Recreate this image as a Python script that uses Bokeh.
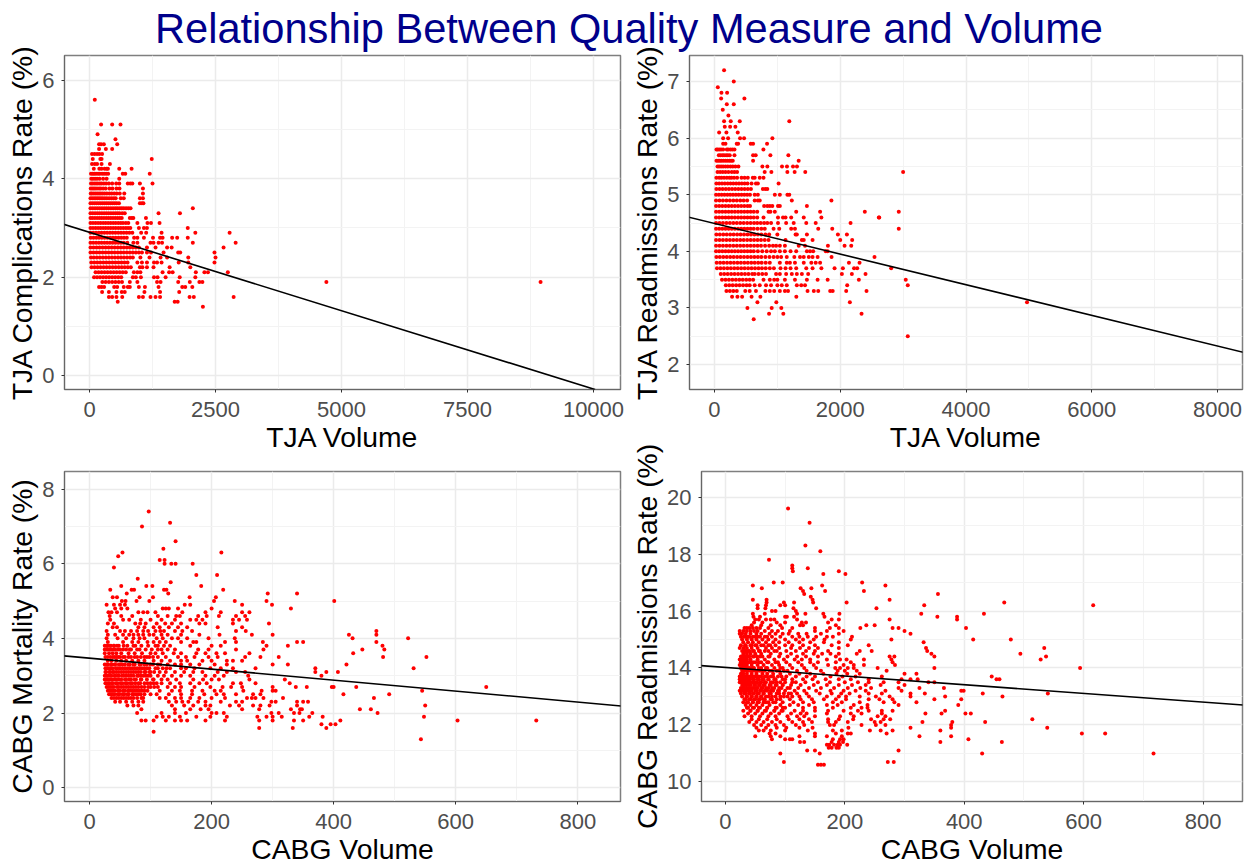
from bokeh.plotting import figure
from bokeh.layouts import column, row
from bokeh.models import FixedTicker, Range1d, Slope
from bokeh.embed import file_html
from bokeh.resources import INLINE

TITLE = "Relationship Between Quality Measure and Volume"
FONT = "Liberation Sans"

# ---- TJA complications: one volume list per rate level
tc_rates = [5.6,5.1,4.9,4.8,4.7,4.6,4.5,4.4,4.3,4.2,4.1,4.0,3.9,3.8,3.7,3.6,3.5,3.4,3.3,3.2,3.1,3.0,2.9,2.8,2.7,2.6,2.5,2.4,2.3,2.2,2.1,2.0,1.9,1.8,1.7,1.6,1.5,1.4]
tc_vols = [
[105],[230,450,615],[160],[515],[190,230,285,550],[190,325,450],[50,100,150,195,250],[65,215,240,1235],[50,105,150,240,405],
[85,195,240,300,340,365,590,835],
[30,65,95,130,170,205,250,290,330,370,660,710,1195],
[35,70,110,150,200,270,340,590],
[30,60,95,130,165,205,240,285,330,385,450,530,590,760,810,850,1000,1250],
[25,55,85,115,150,190,225,270,320,395,455,535,595,1060],
[25,50,85,120,155,190,225,260,300,345,395,440,490,540,600,690,1060],
[20,55,90,125,160,195,230,265,305,345,390,435,480,520,620,680,1000,1060],
[20,60,100,140,180,220,260,300,340,380,420,460,500,540,585,1000,1040,1070],
[20,65,110,155,200,245,290,335,380,425,470,515,555,600,640,680,725,770,815,2050],
[20,65,110,155,200,245,290,335,380,425,470,515,555,595,650,700,1370,1795],
[20,60,105,150,195,240,285,330,375,420,465,510,555,600,640,800,840,870,1120],
[20,70,120,170,220,270,320,370,420,470,520,570,620,665,720,770,950,1150,1220,1390],
[20,70,120,170,220,270,320,370,420,470,520,570,620,670,720,765,810,980,1080,1140,1950],
[20,75,130,185,240,295,350,405,460,515,570,625,680,735,790,850,1025,1125,1430,2100,2780],
[25,80,135,190,245,300,355,410,465,520,575,630,685,740,885,950,1080,1260,1400,1450,1640,1740,1950],
[20,75,130,185,240,295,350,405,460,515,570,625,680,750,870,950,1210,1270,1370,1440,2050,2900],
[20,80,140,200,260,320,380,440,500,560,620,680,740,800,860,920,980,1140,1310,1540,1630,2660],
[20,80,140,200,260,320,380,440,500,560,620,680,740,800,860,920,980,1040,1140,1220,1470,1760,1800,2480],
[30,85,145,205,265,325,385,445,505,565,625,685,745,805,860,1010,1190,1410,1540,1960,2500],
[35,95,155,215,275,335,395,455,515,575,635,695,755,950,1040,1140,1280,1340,1430,1770,1960,2480],
[40,100,160,220,280,340,400,460,520,580,640,700,760,820,1000,1050,1140,1270,1590,2000],
[120,180,240,300,360,420,480,540,600,660,720,880,950,1010,1450,1580,1650,2110,2280,2350,2745],
[90,150,210,270,330,390,450,510,570,630,860,920,1020,1280,1350,1510,1790,2100],
[255,320,385,450,515,580,645,800,950,1340,1410,1760,1990,2180,2240],
[190,240,290,490,550,680,760,800,980,1100,1370,1840,1900,2040],
[250,385,535,640,700,1090,1400,1780],
[385,450,535,650,980,1060,1210,1310,1400,1985,2070,2860],
[560,1690,1750],[2250],
]
tc_far_x = [4700, 8950]
tc_far_y = [1.9, 1.9]

# ---- TJA readmissions
tr_rates = [7.2,7.0,6.9,6.8,6.7,6.6,6.5,6.4,6.3,6.2,6.1,6.0,5.9,5.8,5.7,5.6,5.5,5.4,5.3,5.2,5.1,5.0,4.9,4.8,4.7,4.6,4.5,4.4,4.3,4.2,4.1,4.0,3.9,3.8,3.7,3.6,3.5,3.4,3.3,3.2,3.1,3.0,2.9,2.8,2.5]
tr_vols = [
[153],[307],[53],[111,201],[106,476],[196,307],[132],[222],[153,259,402,1190],[164,249,333],[74,190,370],
[138,217,407,471,921],[138,175,354,376,577,614,836],
[32,53,80,106,138,196,217,254,286,318,778],
[69,95,127,153,185,212,243,318,614,656,889,1175],
[32,58,85,111,143,175,206,238,265,291,614,1339],
[48,74,106,138,175,212,254,291,333,381,762,841,1074,1153,1249,1312],
[48,90,132,175,222,275,318,360,799,905,1159,1275,1444],
[30,75,111,153,196,238,270,312,360,430,480,530,610,640,720,780],
[30,75,120,165,210,255,300,345,390,435,480,525,590,660,690,1020],
[30,80,130,180,230,280,330,380,430,480,530,580,770,810,840],
[25,70,115,160,205,250,295,340,385,430,475,520,565,640,690,960,1040,1160,1190],
[25,80,135,190,245,300,355,410,465,520,640,690,720,1230,1860],
[25,75,125,175,225,275,325,375,425,475,525,565,790,840,880,920,1010,1040,1470],
[25,75,125,175,225,275,325,375,425,475,525,575,625,680,860,890,960,1300,1680,2391,2931],
[25,75,125,175,225,275,325,375,425,475,525,575,625,680,780,1010,1090,1130,1220,1420,1700,2614,2620],
[25,80,135,190,245,300,355,410,465,520,575,630,680,735,790,840,900,1010,1140,1260,1460,1610,2164],
[25,75,125,175,225,275,325,375,425,475,525,575,625,685,745,800,940,1030,1220,1280,1650,1873,2931],
[30,85,140,195,250,305,360,415,470,525,580,635,690,745,810,870,1000,1290,1310,1470,1963,2106],
[25,80,135,190,245,300,355,410,465,520,575,630,685,740,800,860,1130,1390,1420,1560,2000,2190],
[25,80,135,190,245,300,355,410,465,520,575,630,685,740,805,870,930,980,1040,1120,1340,1440,1804,2069,2175],
[25,75,125,175,225,275,325,375,425,475,525,575,625,690,760,830,900,960,1040,1120,1210,1300,1470,1520,1570,1770,1800],
[30,85,140,195,250,305,360,415,470,525,580,635,690,745,810,875,940,1000,1060,1150,1270,1360,1420,1500,1560,1640,1862,2545],
[35,90,145,200,255,310,365,420,475,530,585,640,695,750,815,880,1040,1150,1200,1280,1420,1540,1610,1680,2138,2307],
[40,95,150,205,260,315,370,425,480,535,590,645,700,755,815,880,945,1050,1130,1210,1300,1460,1560,1700,1910,2042,2220,2270,2810],
[100,155,210,265,320,375,430,485,540,600,640,700,760,820,980,1040,1140,1230,1310,1390,1490,2026,2185,2402],
[120,175,230,285,340,395,450,505,560,615,780,880,950,1000,1120,1280,1470,1640,1800,2296,3042],
[180,235,290,345,400,455,510,560,640,720,820,900,1000,1070,1150,1310,1380,1440,2111,3074],
[190,245,300,355,490,560,660,810,880,950,1040,1120,1170,1480,1580,1650,1840,1880,2095,2418],
[280,365,440,590,730,1302],
[683,984,2153],[524,910,1063],[868,1095,2339],[624],[3074],
]
tr_far_x = [3000,4970]
tr_far_y = [5.4,3.1]

# ---- CABG mortality
cm_rates = [7.4,7.1,7.0,6.6,6.4,6.3,6.2,6.1,6.0,5.9,5.7,5.6,5.5,5.4,5.3,5.2,5.1,5.0,4.9,4.8,4.7,4.6,4.5,4.4,4.3,4.2,4.1,4.0,3.9,3.8,3.7,3.6,3.5,3.4,3.3,3.2,3.1,3.0,2.9,2.8,2.7,2.6,2.5,2.4,2.3,2.2,2.1,2.0,1.9,1.8,1.7,1.6,1.5,1.3]
cm_vols = [
[97],[132],[86],[141],[121],[54,216],[47],[115,123],[123,134,141,169],[40],[175,209],[79],[133],[52,93,103,183],
[34,69,73,122,126,219],[61,129,292,340],[38,45,82,104,164,207],[53,59,77,98,204,238,290,401],
[28,40,50,58,156,165,250,299],[42,52,62,120,125,130,145,200,330],
[31,36,45,80,88,95,108,152,190,215,250,262],
[33,52,70,112,128,142,148,178,192,212,240,255],
[34,55,65,84,100,118,140,165,175,185,235,245,258],
[30,40,75,83,92,110,124,135,150,180,190,235,294],
[38,45,80,90,105,115,130,145,160,210,250],
[28,50,58,68,78,88,96,108,116,122,140,152,168,240,256,470],
[30,42,55,65,72,80,88,98,105,118,128,150,180,213,266,300,425,470],
[28,46,60,72,82,90,110,120,135,145,160,195,238,431,522],
[30,55,70,80,95,105,115,125,150,170,175,222,240,284,340,350,470],
[25,30,35,40,45,62,72,85,96,108,122,132,165,200,215,290,325,480],
[25,30,36,42,50,60,68,78,92,102,112,128,140,178,195,240,285,447,483],
[25,32,38,44,52,64,74,86,100,108,120,138,150,175,190,208,222,262,432],
[30,38,44,50,58,68,78,90,98,112,125,145,158,172,195,210,255,280,310,481,552],
[30,36,44,52,60,70,80,90,105,118,132,150,160,185,200,225,235,250],
[25,30,36,42,50,58,66,74,84,94,104,116,128,140,150,165,180,205,225,300,325,421],
[26,32,38,46,54,62,70,78,86,94,108,120,132,150,158,172,198,215,235,272,370,531],
[26,32,38,44,52,60,68,76,84,92,100,115,125,140,155,170,185,210,225,240,255,370,388,407],
[25,30,36,42,48,56,64,72,80,88,96,112,122,135,150,165,190,205,220,260,380],
[25,31,37,44,52,60,68,76,84,105,118,128,142,170,186,200,212,262,320],
[26,32,38,46,54,62,70,80,90,100,110,118,132,148,165,180,192,235,248,272,328],
[28,34,40,48,56,64,72,80,90,100,112,128,140,150,172,198,218,232,250,300,338,356,397,400,437,650],
[30,36,42,50,58,66,74,82,90,115,135,148,168,185,205,215,252,282,300,305,545],
[32,38,46,54,62,72,80,90,100,110,130,150,168,188,208,220,240,268,280,416,491],
[36,44,52,60,68,78,88,115,125,140,150,165,180,200,222,258,266,272,285,317,466],
[42,50,60,70,80,88,130,142,152,162,178,190,215,240,250,298,305,340,350,358],
[62,72,80,135,155,170,190,198,230,245,268,280,295,340,550],
[85,140,165,182,195,250,278,330,348,345,443,461],
[78,118,140,158,200,208,220,298,310,335,344,472,365],
[110,120,130,148,175,198,225,275,290,300,315,360,548,382],
[85,92,105,160,278,300,335,350,411,603,732,125,140,150,190,222],
[380,403,395],[278,333,388],[105],[543],
]
# extra volumes in the crowded core of the mortality panel
cm_core_rates = [3.8,3.7,3.5,3.3,3.2,3.1,3.0,2.9,2.8,2.7,2.6,2.5,2.4]
cm_core_vols = [
[28,33,40,48,56,75,112],
[28,34,40,47,55,66,82,118],
[26,34,41,47,55,64,74,84,94,104],
[28,35,41,48,54,64,72,82,90,100,112],
[29,35,43,50,58,66,74,82,90,98,112,126],
[27,34,40,48,56,64,72,80,90,98,106],
[28,34,41,46,53,60,68,78,84,92,100],
[27,33,40,49,58,65,74,85,94,104],
[29,36,43,51,59,67,75,83,95,105],
[31,37,45,52,60,68,76,85,96,106],
[33,39,47,55,63,70,78,86,95],
[35,41,49,57,64,70,76,84],
[40,48,56,64,72,85],
]

# ---- CABG readmissions
cr_rates = [19.6,19.1,18.3,18.1,17.8,17.6,17.5,17.4,17.3,17.0,16.9,16.8,16.7,16.6,16.5,16.4,16.3,16.2,16.1,16.0,15.9,15.8,15.7,15.6,15.5,15.4,15.3,15.2,15.1,15.0,14.9,14.8,14.7,14.6,14.5,14.4,14.3,14.2,14.1,14.0,13.9,13.8,13.7,13.6,13.5,13.4,13.3,13.2,13.1,13.0,12.9,12.8,12.7,12.6,12.5,12.4,12.3,12.2,12.1,12.0,11.9,11.8,11.7,11.6,11.5,11.4,11.3,11.2,11.1,11.0,10.9,10.7,10.6]
cr_vols = [
[105],[141],[134],[159],[73],[112],[112,138],[113,190],[164,201],[81,96,229],[46,162,268],[61,126,144],[130,167,232],[132,356],
[143],[46,69,146,275],[69,98,115,147,203,467],[54,68,92,100,333,616],[54,67,114,152,253],[78,84,118],
[46,66,120,134,164,191,328,433],[47,58,100,103,115,166,355,388],
[50,56,68,76,82,120,178,190,388,275],[48,62,86,100,128,135,172],[44,60,76,92,125,130,185,250,236],
[32,36,40,46,52,58,72,95,112,150,175,190,226,280,290,403],
[24,30,36,42,48,54,66,78,88,108,150,170,198,300],
[24,28,34,42,52,60,74,84,96,106,122,136,160,190,310],
[26,34,40,46,54,66,78,92,112,124,138,152,170,180,212],
[28,36,44,52,62,72,84,100,118,130,148,166,210,278,415,478],
[30,38,46,56,68,80,90,106,124,142,165,190,332],
[26,34,44,52,60,72,84,100,112,130,150,178,205,240],
[24,30,36,44,54,68,78,90,110,125,140,155,190,336,534],
[28,34,40,48,58,72,86,102,118,135,150,172,225,245,338],
[30,36,42,50,60,76,92,110,130,148,162,176,190,220,345,494],
[26,30,34,40,48,58,74,90,104,120,135,155,185,275,283,350,537],
[24,28,32,36,42,54,66,82,98,116,128,142,170,192,203,232,278,528],
[26,30,34,38,46,56,72,88,102,122,142,155,185,210,280],
[24,28,32,36,44,54,64,78,90,108,128,148,172,198,215,232,284],
[26,30,34,38,48,60,70,82,96,112,132,152,184,192,205,215,255,350,594],
[28,32,38,46,54,62,74,86,98,120,136,160,188,200,220,270],
[26,30,36,44,52,62,70,80,92,108,124,142,164,186,204,225,300,320],
[24,28,34,40,48,56,66,76,88,102,118,136,150,176,196,218,262,446],
[24,28,32,38,46,54,62,72,84,96,112,130,146,168,190,210,240,295,310,322,454,459],
[24,30,36,42,50,58,66,76,86,100,118,134,155,175,200,222,240,265,290,340,350],
[28,34,40,48,56,64,74,84,96,110,126,148,170,190,212,235,260,300],
[26,30,36,44,52,60,68,78,90,104,122,140,160,182,205,226,244,290,325,366],
[24,28,34,42,50,58,66,76,88,100,116,132,152,176,198,218,235,268,295,395,399],
[26,32,40,46,54,64,76,90,106,120,136,158,178,194,208,240,262,310,334,431,540],
[28,36,44,52,60,72,84,98,112,124,140,170,190,202,225,252,275,310,368,464],
[32,40,48,56,64,78,92,108,126,145,165,185,202,240,258,280,350,395],
[30,38,46,56,68,80,96,114,130,148,180,195,225,265,283,320],
[34,42,52,62,74,92,108,122,140,170,188,215,238,290,390],
[36,46,56,70,86,100,130,150,180,210,228,238],
[30,42,54,66,82,96,116,130,150,172,198,222,240,262,280,368],
[38,50,62,76,90,110,126,136,170,210,228,262,335,362,402,411],
[32,44,58,72,84,104,120,132,150,192,215,255,268],
[44,56,70,86,106,124,140,172,190,214,244,265,276,514],
[40,52,64,78,92,112,130,145,172,185,205,250,260,330,380,435],
[48,60,72,84,98,118,132,175,182,228,252,268,378],
[52,68,86,102,124,146,206,310,378,539],
[56,64,76,100,138,180,195,242,260,280,360],
[74,84,150,185,205,210,270,597,636],
[50,76,92,124,150,170,195,325,378],
[78,100,108,112,180,192,198,407],
[125,132,178,190,197,360,463],
[170,174,182,188,192,204],
[173,178,186,190],
[137,150,290],
[92,158,430,717],
[],[98,272,282],[155,160,165],
]
cr_rates = [r for r, v in zip(cr_rates, cr_vols) if v]
cr_vols = [v for v in cr_vols if v]
# extra volumes in the crowded core of the readmissions panel
cr_core_rates = [15.1,14.8,14.6,14.4,14.2,14.0,13.9,13.7,13.6,13.5,13.4,13.3,13.2,13.1,13.0,12.9,12.8,12.6,12.5]
cr_core_vols = [
[31,38,50,58,70],[33,42,50,64,75],[32,38,46,56,66,82],[28,33,38,46,53,62,72],[26,31,37,42,50,60,70,84],
[29,33,41,46,56,68,92],[30,36,42,50,58,66,78,90,104],[26,31,37,44,52,60,70,80,94],[28,34,41,48,56,64,72,82,100],
[27,33,39,46,53,60,68,80,92,112],[30,36,42,50,58,66,76,86,96],[32,39,47,54,62,72,82,94,108],[30,38,44,52,60,70,80,90],
[34,40,48,56,64,74,86,98,110],[36,44,52,60,68,78,92,104],[34,42,50,58,66,76,86],[36,46,54,64,72,84],[38,48,58,70,84,96],[42,54,68,82,94],
]


def flat(rates, vols):
    xs, ys = [], []
    for r, v in zip(rates, vols):
        xs += v
        ys += [r] * len(v)
    return xs, ys


def panel(width, height, left, right, top, bottom, xr, yr, xt, xm, yt, ym, xlabel, ylabel, xs, ys, slope, icpt):
    p = figure(width=width, height=height, output_backend="svg", toolbar_location=None,
               x_range=Range1d(*xr), y_range=Range1d(*yr),
               min_border_left=left, min_border_right=right, min_border_top=top, min_border_bottom=bottom,
               background_fill_color="white", border_fill_color=None)
    p.outline_line_color = "#7F7F7F"
    p.outline_line_width = 1.5
    xtick = FixedTicker(ticks=xt, minor_ticks=xm)
    ytick = FixedTicker(ticks=yt, minor_ticks=ym)
    p.xaxis.ticker = xtick
    p.yaxis.ticker = ytick
    p.xgrid.ticker = xtick
    p.ygrid.ticker = ytick
    for g in (p.xgrid, p.ygrid):
        g.grid_line_color = "#EBEBEB"
        g.grid_line_width = 1.5
        g.minor_grid_line_color = "#F3F3F3"
        g.minor_grid_line_width = 1
    for a, lab in ((p.xaxis, xlabel), (p.yaxis, ylabel)):
        a.axis_label = lab
        a.axis_label_text_font = FONT
        a.axis_label_text_font_size = "28.3px"
        a.axis_label_text_font_style = "normal"
        a.axis_label_text_color = "black"
        a.major_label_text_font = FONT
        a.major_label_text_font_size = "22px"
        a.major_label_text_color = "#4D4D4D"
        a.major_tick_in = 0
        a.major_tick_out = 3
        a.major_tick_line_color = "#333333"
        a.minor_tick_line_color = None
        a.axis_line_color = "#666666"
    p.xaxis.major_label_standoff = 8
    p.xaxis.axis_label_standoff = 1
    p.yaxis.major_label_standoff = 6
    p.yaxis.axis_label_standoff = 1
    p.yaxis.major_label_orientation = "horizontal"
    p.scatter(xs, ys, size=4, color="#FF0000", line_color=None)
    p.add_layout(Slope(gradient=slope, y_intercept=icpt, line_color="black", line_width=1.6))
    return p


x1, y1 = flat(tc_rates, tc_vols)
x2, y2 = flat(tr_rates, tr_vols)
x3, y3 = flat(cm_rates + cm_core_rates, cm_vols + cm_core_vols)
x4, y4 = flat(cr_rates + cr_core_rates, cr_vols + cr_core_vols)

p1 = panel(628, 413, 64, 8, 13, 64, (-496, 10536), (-0.28, 6.5),
           [0, 2500, 5000, 7500, 10000], [1250, 3750, 6250, 8750], [0, 2, 4, 6], [1, 3, 5],
           "TJA Volume", "TJA Complications Rate (%)", x1 + tc_far_x, y1 + tc_far_y, -3.18e-4, 2.91)
p2 = panel(619, 413, 60, 5, 13, 64, (-397, 8397), (1.56, 7.46),
           [0, 2000, 4000, 6000, 8000], [1000, 3000, 5000, 7000], [2, 3, 4, 5, 6, 7], [2.5, 3.5, 4.5, 5.5, 6.5],
           "TJA Volume", "TJA Readmissions Rate (%)", x2 + tr_far_x, y2 + tr_far_y, -2.706e-4, 4.493)
p3 = panel(628, 427, 64, 8, 31, 60, (-41, 870), (-0.37, 8.47),
           [0, 200, 400, 600, 800], [100, 300, 500, 700], [0, 2, 4, 6, 8], [1, 3, 5, 7],
           "CABG Volume", "CABG Mortality Rate (%)", x3, y3, -1.471e-3, 3.47)
p4 = panel(619, 427, 73, 5, 31, 60, (-40, 866), (9.31, 20.9),
           [0, 200, 400, 600, 800], [100, 300, 500, 700], [10, 12, 14, 16, 18, 20], [11, 13, 15, 17, 19],
           "CABG Volume", "CABG Readmissions Rate (%)", x4, y4, -1.523e-3, 14.02)

head = figure(width=1247, height=56, output_backend="svg", toolbar_location=None, title=TITLE,
              x_axis_type=None, y_axis_type=None, min_border=0, min_border_left=10, min_border_top=3,
              outline_line_color=None,
              x_range=Range1d(0, 1), y_range=Range1d(0, 1), border_fill_color=None)
head.title.align = "center"
head.title.text_font = FONT
head.title.text_font_size = "41.6px"
head.title.text_font_style = "normal"
head.title.text_color = "#00008B"
head.grid.visible = False

page = column(head, row(p1, p2, margin=(-14, 0, 0, 0)), row(p3, p4, margin=(-15, 0, 0, 0)))
open("out.html", "w").write(file_html(page, INLINE))
